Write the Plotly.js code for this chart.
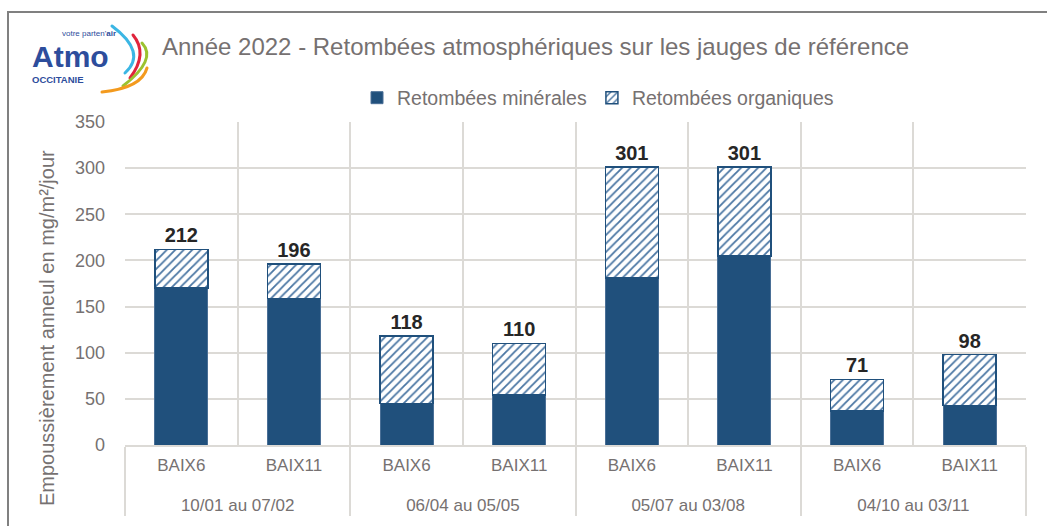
<!DOCTYPE html>
<html>
<head>
<meta charset="utf-8">
<script src="https://cdn.plot.ly/plotly-3.0.1.min.js"></script>
<style>html,body{margin:0;padding:0;background:#fff;}#chart{width:1047px;height:526px;}</style>
</head>
<body>
<div id="chart"></div>
<script>
// ---- Data ----
const groups = ['10/01 au 07/02', '06/04 au 05/05', '05/07 au 03/08', '04/10 au 03/11'];
const stations = ['BAIX6', 'BAIX11'];
const totals = [212, 196, 118, 110, 301, 301, 71, 98];
const minerales = [170, 159, 45, 54, 181, 205, 37, 43];
const seriesNames = ['Retombées minérales', 'Retombées organiques'];
const chartTitle = 'Année 2022 - Retombées atmosphériques sur les jauges de référence';
const yTitle = 'Empoussièrement anneul en mg/m²/jour';

// ---- Derived ----
const organiques = totals.map((t, i) => t - minerales[i]);
const xLevel1 = [], xLevel2 = [];
groups.forEach(g => stations.forEach(s => { xLevel1.push('<br>' + g); xLevel2.push(s); }));

// ---- Layout helpers (pixel -> paper) ----
const W = 1047, H = 526;
const M = {l: 125, r: 21, t: 122, b: 81};
const PW = W - M.l - M.r, PH = H - M.t - M.b;
const px = x => (x - M.l) / PW;
const py = y => (H - M.b - y) / PH;

const FONT = 'Liberation Sans, Arial, sans-serif';
const blue = '#20507c';
const gray = '#767171';
const grid = '#dcdad6';
const logoBlue = '#2d4d9c';

const traces = [
  {
    type: 'bar', name: seriesNames[0],
    x: [xLevel1, xLevel2], y: minerales,
    marker: {color: blue, line: {color: '#4a6f96', width: 1}},
    hoverinfo: 'y'
  },
  {
    type: 'bar', name: seriesNames[1],
    x: [xLevel1, xLevel2], y: organiques,
    customdata: totals,
    texttemplate: '<b>%{customdata}</b>', textposition: 'outside',
    textfont: {family: FONT, size: 20, color: '#262626'},
    cliponaxis: false,
    marker: {color: '#ffffff', line: {color: blue, width: 1.5},
             pattern: {shape: '/', size: 6, solidity: 0.3, fgcolor: '#4a76a3', bgcolor: '#ffffff'}},
    hoverinfo: 'y'
  }
];

// Logo arcs (graphic only) as an SVG image covering the full figure
const svg = `<svg xmlns="http://www.w3.org/2000/svg" width="${W}" height="${H}" viewBox="0 0 ${W} ${H}" preserveAspectRatio="none">
<g fill="none" stroke-linecap="round" stroke-width="3">
<path d="M112 26 Q147.5 52.5 125 73" stroke="#3bb6e4"/>
<path d="M133 35 Q148.5 53.5 130 78" stroke="#e0243c"/>
<path d="M142 43 Q157.5 59.5 123 86" stroke="#9cc230"/>
<path d="M147 68 Q141.5 88 102 92" stroke="#f39a1e"/>
</g></svg>`;
const svgUri = 'data:image/svg+xml;charset=utf-8,' + encodeURIComponent(svg);

const layout = {
  width: W, height: H,
  margin: M,
  paper_bgcolor: '#ffffff', plot_bgcolor: '#ffffff',
  font: {family: FONT, color: gray, size: 17},
  barmode: 'stack', bargap: 0.53,
  title: {
    text: chartTitle,
    font: {family: FONT, size: 24, color: gray},
    x: 162 / W, xanchor: 'left', xref: 'container',
    y: 1 - 47 / H, yanchor: 'middle', yref: 'container'
  },
  showlegend: true,
  legend: {
    orientation: 'h', x: px(598), xanchor: 'center', y: py(98), yanchor: 'middle',
    font: {size: 19.5, color: gray}, traceorder: 'normal',
    itemwidth: 30, bgcolor: 'rgba(0,0,0,0)'
  },
  xaxis: {
    type: 'multicategory',
    showgrid: true, gridcolor: grid, gridwidth: 2,
    showline: true, linecolor: grid, linewidth: 2,
    showdividers: true, dividercolor: grid, dividerwidth: 2,
    ticks: '', ticklabelstandoff: 4, tickfont: {size: 17, color: gray},
    zeroline: false, fixedrange: true
  },
  yaxis: {
    range: [0, 350], dtick: 50, tick0: 0,
    showgrid: true, gridcolor: grid, gridwidth: 2,
    zeroline: false, showline: false, ticks: '',
    ticklabelstandoff: 19,
    tickfont: {size: 18, color: gray},
    fixedrange: true
  },
  shapes: [
    {type: 'rect', xref: 'paper', yref: 'paper',
     x0: px(8), x1: px(1060), y0: py(12), y1: py(540),
     line: {color: '#808080', width: 2}, fillcolor: 'rgba(0,0,0,0)', layer: 'below'}
  ],
  images: [
    {source: svgUri, xref: 'paper', yref: 'paper',
     x: px(0), y: py(0), sizex: W / PW, sizey: H / PH,
     xanchor: 'left', yanchor: 'top', sizing: 'stretch', layer: 'above'}
  ],
  annotations: [
    {text: yTitle, xref: 'paper', yref: 'paper', x: px(47), y: py(328),
     xanchor: 'center', yanchor: 'middle', textangle: -90, showarrow: false,
     font: {family: FONT, size: 20, color: gray}},
    {text: '<b>Atmo</b>', xref: 'paper', yref: 'paper', x: px(70), y: py(57),
     xanchor: 'center', yanchor: 'middle', showarrow: false, borderpad: 0,
     font: {family: FONT, size: 30, color: logoBlue}},
    {text: 'votre parten\'<b>air</b>', xref: 'paper', yref: 'paper', x: px(89), y: py(34),
     xanchor: 'center', yanchor: 'middle', showarrow: false, borderpad: 0,
     font: {family: FONT, size: 8, color: logoBlue}},
    {text: '<b>OCCITANIE</b>', xref: 'paper', yref: 'paper', x: px(31), y: py(79),
     xanchor: 'left', yanchor: 'middle', showarrow: false, borderpad: 0,
     font: {family: FONT, size: 9.5, color: logoBlue}}
  ]
};

Plotly.newPlot('chart', traces, layout, {displayModeBar: false, staticPlot: true});
</script>
</body>
</html>
